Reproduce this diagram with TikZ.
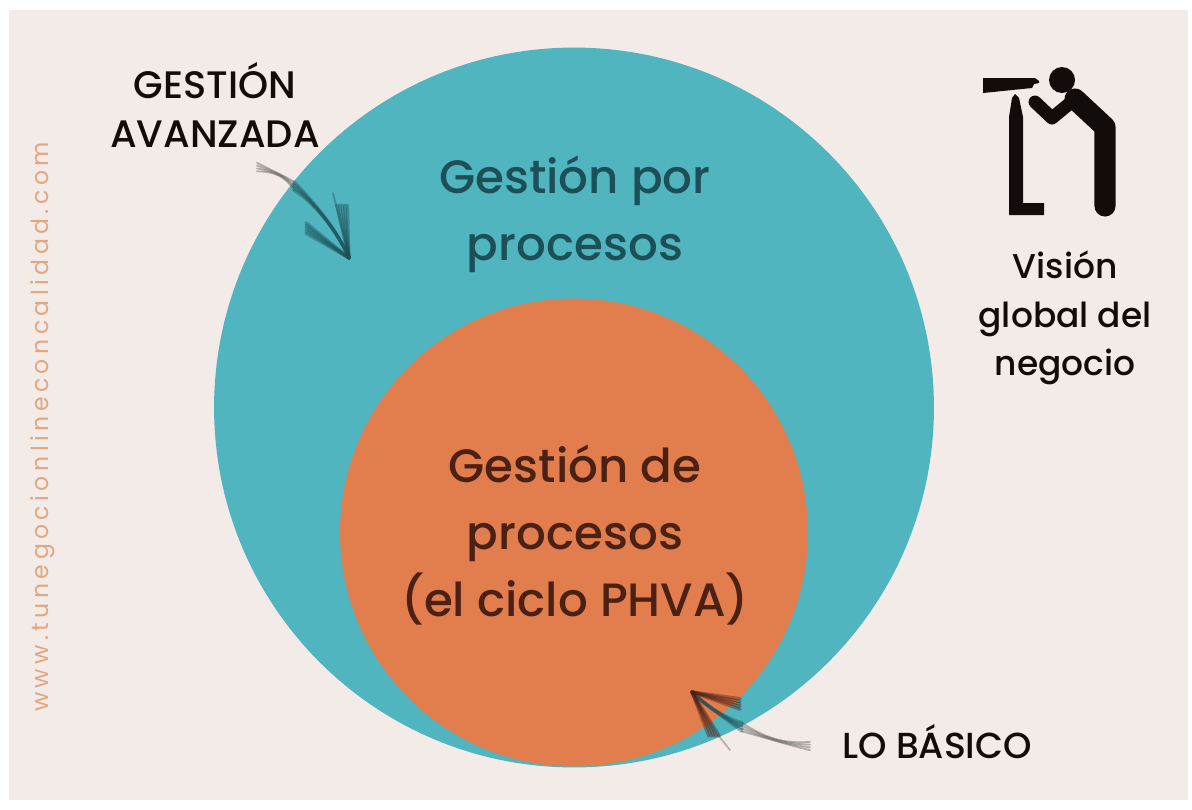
\documentclass[tikz,border=0pt]{standalone}
\usepackage{fontspec}
\setmainfont{Poppins Medium}
\newfontfamily\sidefont[LetterSpace=19]{Poppins}
\definecolor{paper}{HTML}{F3EBE8}
\definecolor{tealbig}{HTML}{50B5BF}
\definecolor{orangein}{HTML}{E27D4E}
\definecolor{tealink}{HTML}{1D4F57}
\definecolor{orangeink}{HTML}{4B2115}
\definecolor{sideink}{HTML}{E3A77F}
\definecolor{iconink}{HTML}{120C0A}
\tikzset{
  biglabel/.style = {align = center, font = \fontsize{26.6}{38}\selectfont},
  midlabel/.style = {align = center, text = iconink, font = \fontsize{19.6}{27.5}\selectfont},
  capslabel/.style = {align = center, text = iconink, font = \fontsize{20.6}{27.5}\selectfont},
  brushbig/.style = {line width = 1.9pt, opacity = 0.4, line cap = round},
}
\begin{document}
\begin{tikzpicture}[x = 0.02cm, y = -0.02cm]
\useasboundingbox (0, 0) rectangle (1192, 809);
\fill[white] (0, 0) rectangle (1192, 809);
\fill[paper] (9, 10) rectangle (1188, 800);
% circles
\node[circle, fill = tealbig, minimum size = 14.4cm, inner sep = 0pt] (outer) at (574, 407.5) {};
\node[circle, fill = orangein, minimum size = 9.36cm, inner sep = 0pt] (inner) at (574, 532.5) {};
% labels
\node[biglabel, text = tealink] (porproc) at (575, 214) {Gestión por\\procesos};
\node[biglabel, text = orangeink] (deproc) at (575, 535) {Gestión de\\procesos\\(el ciclo PHVA)};
\node[capslabel, font = \fontsize{21.8}{27.5}\selectfont] (avanzada) at (215, 105) {GESTIÓN\\AVANZADA};
\node[midlabel] (vision) at (1065, 318) {Visión\\global del\\negocio};
\node[capslabel] (basico) at (937, 742) {LO BÁSICO};
\node[rotate = 90, text = sideink, font = \sidefont\fontsize{13.4}{13}\selectfont] (web) at (43, 427) {www.tunegocionlineconcalidad.com};
% arrow to the outer circle
\coordinate (tipa) at (349, 258);
\coordinate (taila) at (257, 167);
\foreach \i in {-2.4, -0.8, 0.8, 2.4}{\draw[brushbig, line width = 1pt, draw = black!70] ([yshift = \i pt]taila) .. controls (275, 172) and (285, 176) .. ([yshift = \i pt]294, 186);}
\foreach \i in {-2.4, -0.8, 0.8, 2.4}{\draw[brushbig, draw = tealink] ([yshift = \i pt]294, 186) .. controls (315, 203) and (338, 232) .. (tipa);}
\foreach \i in {-3, -1.5, 0, 1.5, 3}{
  \draw[brushbig, draw = tealink] ([yshift = \i pt]306, 228) -- (tipa);
  \draw[brushbig, draw = tealink] ([xshift = \i pt]342, 205) -- (tipa);
}
\draw[brushbig, line width = 1pt, draw = tealink] (333, 193) -- (tipa);
% arrow to the inner circle
\coordinate (tipb) at (692, 692);
\coordinate (tailb) at (810, 746);
\foreach \i in {-2.4, -0.8, 0.8, 2.4}{\draw[brushbig, line width = 1pt, draw = black!70] ([yshift = \i pt]tailb) .. controls (785, 744) and (765, 738) .. ([yshift = \i pt]742, 727);}
\foreach \i in {-2.4, -0.8, 0.8, 2.4}{\draw[brushbig, draw = tealink] ([yshift = \i pt]742, 727) .. controls (725, 718) and (705, 705) .. (tipb);}
\foreach \i in {-3, -1.5, 0, 1.5, 3}{
  \draw[brushbig, draw = orangeink] ([yshift = \i pt]740, 704) -- (tipb);
  \draw[brushbig, draw = orangeink] ([xshift = \i pt]714, 736) -- (tipb);
}
\draw[brushbig, line width = 1pt, draw = black!65] (730, 750) -- (710, 725);
% spyglass figure
\fill[iconink] (983, 78) -- (1035, 78) -- (1039, 81) -- (1039, 83) -- (1034, 84) -- (1032, 88) -- (983, 93) -- cycle;
\fill[iconink] (1015, 94) -- (1019, 98) -- (1023, 117) -- (1023, 203) -- (1044, 203) -- (1044, 215) -- (1009, 215) -- (1009, 117) -- (1012, 98) -- cycle;
\fill[iconink] (1062, 80) circle (13);
\draw[iconink, line width = 7.4pt, line cap = round, line join = round] (1035, 102) -- (1052, 118) -- (1075, 99);
\draw[iconink, line width = 12pt, line cap = round, line join = round] (1075, 99) -- (1105, 127) -- (1105, 206);
\end{tikzpicture}
\end{document}
